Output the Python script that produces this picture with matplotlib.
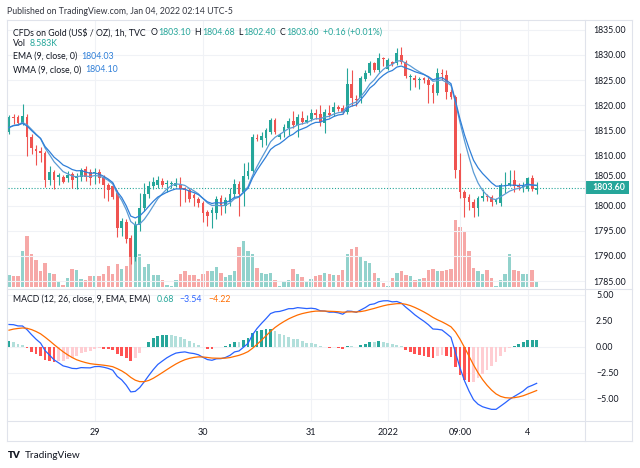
import numpy as np
import matplotlib.pyplot as plt
from matplotlib.patches import Rectangle
from matplotlib.lines import Line2D
from matplotlib.transforms import blended_transform_factory

plt.rcParams['font.family'] = ['Lato', 'DejaVu Sans']

# hourly candles, Dec 28 2021 -> Jan 04 2022
opens = [1814.6, 1817.7, 1817.7, 1816.3, 1817.7, 1813.7, 1811.3, 1810.8, 1810.4, 1805.2,
         1806.7, 1805.6, 1805.6, 1805.4, 1806.3, 1805.4, 1805.6, 1807.3, 1806.6, 1806.5,
         1806.7, 1805.6, 1804.1, 1804.0, 1802.6, 1795.6, 1796.8, 1793.5, 1789.8, 1796.1,
         1799.6, 1802.4, 1804.0, 1804.2, 1805.0, 1804.4, 1804.4, 1804.0, 1804.2, 1803.5,
         1803.1, 1802.2, 1801.3, 1800.6, 1798.7, 1798.5, 1798.5, 1801.5, 1800.0, 1800.8,
         1802.3, 1804.4, 1802.8, 1805.8, 1806.8, 1813.5, 1813.1, 1813.4, 1814.7, 1817.0,
         1813.6, 1814.7, 1815.4, 1816.8, 1816.0, 1817.4, 1816.7, 1817.2, 1818.5, 1818.2,
         1816.4, 1818.4, 1818.7, 1819.7, 1819.4, 1818.7, 1824.3, 1821.3, 1821.4, 1825.2,
         1826.4, 1828.3, 1826.9, 1829.3, 1827.2, 1828.5, 1828.3, 1830.0, 1828.5, 1825.6,
         1825.4, 1825.0, 1825.3, 1825.0, 1824.0, 1822.5, 1826.4, 1826.0, 1822.7, 1821.7,
         1807.1, 1802.8, 1801.8, 1800.8, 1799.5, 1801.5, 1801.9, 1801.7, 1800.8, 1800.5,
         1804.0, 1804.2, 1805.1, 1804.1, 1803.8, 1803.4, 1805.4, 1803.1]
highs = [1818.0, 1818.2, 1818.0, 1820.2, 1818.3, 1814.2, 1812.0, 1811.7, 1810.8, 1807.9,
         1807.1, 1806.4, 1806.0, 1806.8, 1806.7, 1806.5, 1807.5, 1807.8, 1807.2, 1807.4,
         1807.2, 1806.0, 1804.6, 1804.5, 1803.2, 1797.5, 1797.3, 1794.1, 1797.0, 1802.6,
         1804.5, 1805.0, 1805.6, 1805.8, 1805.4, 1805.2, 1805.0, 1805.4, 1805.6, 1803.8,
         1803.5, 1802.6, 1801.8, 1801.0, 1799.2, 1799.8, 1802.0, 1802.1, 1801.8, 1803.5,
         1805.3, 1805.0, 1808.4, 1808.6, 1814.3, 1814.2, 1814.6, 1815.5, 1817.5, 1817.4,
         1814.5, 1816.2, 1817.5, 1818.9, 1818.2, 1818.9, 1818.0, 1819.2, 1819.3, 1820.0,
         1819.3, 1820.0, 1820.6, 1820.0, 1820.0, 1827.3, 1827.0, 1822.0, 1825.8, 1826.9,
         1828.8, 1828.6, 1830.4, 1829.6, 1829.3, 1828.7, 1831.3, 1831.6, 1829.0, 1826.2,
         1825.9, 1825.6, 1825.6, 1825.5, 1824.4, 1827.3, 1827.2, 1827.0, 1823.3, 1822.0,
         1810.4, 1803.2, 1802.3, 1801.3, 1802.0, 1803.4, 1802.3, 1802.2, 1801.6, 1804.5,
         1806.7, 1807.1, 1807.1, 1804.6, 1804.8, 1805.7, 1806.1, 1804.68]
lows = [1814.2, 1816.2, 1816.0, 1816.1, 1809.8, 1810.2, 1808.1, 1808.7, 1803.8, 1804.1,
        1803.4, 1804.1, 1804.5, 1804.7, 1803.5, 1803.3, 1805.0, 1805.0, 1804.2, 1804.4,
        1804.6, 1801.5, 1801.0, 1801.3, 1793.8, 1794.0, 1792.5, 1788.3, 1789.0, 1795.0,
        1799.0, 1801.5, 1803.4, 1803.5, 1803.7, 1802.8, 1803.6, 1803.7, 1800.0, 1800.8,
        1800.8, 1800.0, 1799.8, 1796.8, 1796.0, 1795.5, 1797.3, 1798.1, 1798.5, 1800.0,
        1801.5, 1798.0, 1800.0, 1805.3, 1806.3, 1812.8, 1811.7, 1812.0, 1814.3, 1814.3,
        1813.2, 1813.6, 1814.0, 1815.5, 1813.7, 1816.2, 1816.4, 1816.8, 1817.2, 1815.8,
        1814.4, 1817.7, 1817.9, 1818.8, 1818.2, 1818.2, 1819.8, 1819.9, 1820.5, 1824.8,
        1826.0, 1826.5, 1826.5, 1827.8, 1826.9, 1827.8, 1827.9, 1828.2, 1825.3, 1823.1,
        1823.7, 1823.3, 1824.4, 1820.4, 1820.4, 1822.0, 1825.0, 1821.2, 1821.2, 1805.5,
        1801.6, 1797.8, 1799.1, 1797.8, 1797.9, 1801.0, 1800.9, 1800.0, 1800.3, 1800.0,
        1802.5, 1803.9, 1802.8, 1803.1, 1802.8, 1803.0, 1802.9, 1802.40]
closes = [1817.7, 1817.4, 1816.4, 1817.8, 1813.7, 1811.4, 1810.8, 1810.5, 1805.2, 1806.7,
          1805.2, 1806.0, 1804.8, 1806.1, 1805.2, 1805.9, 1807.1, 1805.6, 1805.4, 1806.7,
          1805.4, 1804.1, 1803.1, 1801.8, 1795.6, 1796.9, 1793.4, 1789.7, 1796.1, 1799.6,
          1802.4, 1804.0, 1804.8, 1805.1, 1804.1, 1804.6, 1804.5, 1804.5, 1803.3, 1803.1,
          1801.3, 1801.5, 1800.5, 1798.5, 1798.0, 1799.1, 1801.4, 1800.0, 1801.1, 1802.4,
          1804.4, 1802.3, 1805.8, 1806.9, 1813.7, 1813.3, 1813.8, 1815.0, 1817.0, 1814.7,
          1814.1, 1815.7, 1816.8, 1816.0, 1817.7, 1816.7, 1817.1, 1818.5, 1818.0, 1816.7,
          1818.7, 1818.1, 1819.7, 1819.3, 1818.7, 1824.3, 1821.5, 1821.0, 1825.3, 1826.4,
          1828.3, 1827.0, 1829.4, 1829.1, 1829.0, 1828.2, 1830.3, 1828.6, 1825.8, 1825.8,
          1825.0, 1825.2, 1825.0, 1824.0, 1822.5, 1826.4, 1826.1, 1822.7, 1821.7, 1807.1,
          1802.8, 1801.5, 1800.8, 1799.5, 1801.5, 1801.9, 1801.8, 1800.8, 1801.1, 1804.1,
          1804.2, 1804.6, 1803.9, 1803.8, 1804.0, 1805.4, 1803.4, 1803.60]
volumes = [16.4, 15.7, 15.7, 50.1, 72.9, 47.2, 37.9, 21.5, 34.3, 20.0,
           17.9, 7.9, 2.9, 12.9, 25.7, 24.3, 11.4, 9.3, 15.0, 15.7,
           15.7, 17.2, 29.3, 18.6, 32.9, 25.7, 30.0, 45.0, 72.9, 47.2,
           28.6, 31.5, 16.4, 16.4, 9.3, 2.9, 1.4, 9.3, 17.2, 21.5,
           16.4, 16.4, 11.4, 18.6, 21.5, 21.5, 27.9, 20.0, 14.3, 16.4,
           21.5, 55.8, 65.1, 50.1, 45.8, 27.2, 20.0, 18.6, 19.7, 9.3,
           0.7, 7.2, 10.0, 25.7, 17.2, 14.3, 7.9, 11.4, 15.0, 16.4,
           19.7, 18.6, 16.4, 16.4, 24.3, 46.5, 54.3, 55.8, 42.9, 35.8,
           34.3, 20.0, 12.9, 5.7, 1.4, 12.9, 20.0, 22.9, 16.4, 15.0,
           9.3, 11.4, 12.2, 24.3, 25.7, 22.9, 21.5, 24.3, 25.7, 94.4,
           85.8, 79.4, 50.1, 26.5, 22.9, 17.2, 23.6, 12.2, 0.7, 9.3,
           17.9, 45.8, 24.3, 22.2, 17.9, 17.2, 24.3, 8.583]

tick_pos = [19, 43, 67, 84, 100, 115]
tick_labels = ['29', '30', '31', '2022', '09:00', '4']
price_ticks = [1785, 1790, 1795, 1800, 1805, 1810, 1815, 1820, 1825, 1830, 1835]
macd_ticks = [5, 2.5, 0, -2.5, -5]

# indicator values just before the first visible bar
ma_seed = 1815.0
ema12_seed, ema26_seed, signal_seed = 1815.3, 1813.2, 1.45

UP, DOWN = '#26a69a', '#ef5350'
TXT = '#131722'
GRID = '#f0f2f6'
BLUE_MA = '#2f7fd8'


def ema(values, n, seed):
    k = 2.0 / (n + 1)
    out, e = [], seed
    for v in values:
        e = e + k * (v - e)
        out.append(e)
    return np.array(out)


def wma(values, n, seed):
    padded = [seed] * (n - 1) + list(values)
    w = np.arange(1, n + 1)
    return np.array([np.dot(w, padded[i:i + n]) / w.sum() for i in range(len(values))])


o, h, l, c = map(np.array, (opens, highs, lows, closes))
vol = np.array(volumes)
x = np.arange(len(c))
up = c >= o

ema9 = ema(c, 9, ma_seed)
wma9 = wma(c, 9, ma_seed)
macd = ema(c, 12, ema12_seed) - ema(c, 26, ema26_seed)
signal = ema(macd, 9, signal_seed)
hist = macd - signal
prev = np.concatenate([[hist[0]], hist[:-1]])
hist_cols = []
for hv, pv in zip(hist, prev):
    if hv >= 0:
        hist_cols.append('#26a69a' if hv >= pv else '#b2dfdb')
    else:
        hist_cols.append('#ffcdd2' if hv > pv else '#ff5252')

W, H = 640, 468
fig = plt.figure(figsize=(6.4, 4.68), dpi=100)
renderer = fig.canvas.get_renderer()


def rect(x0, y0, x1, y1):
    return [x0 / W, 1 - y1 / H, (x1 - x0) / W, (y1 - y0) / H]


def ftext(px, py, s, **kw):
    return fig.text(px / W, 1 - py / H, s, va='center', ha='left', **kw)


def text_row(px, py, parts, size=6.3):
    # lay text pieces side by side, each one after the previous
    for s, col, gap in parts:
        px += gap
        t = ftext(px, py, s, fontsize=size, color=col)
        px = t.get_window_extent(renderer).x1


xlim = (-0.22, 127.72)

# volume (drawn underneath)
ax_vol = fig.add_axes(rect(8, 20, 585, 288), zorder=0)
ax_vol.bar(x, vol, width=0.75, color=np.where(up, UP, DOWN), alpha=0.5, linewidth=0)
ax_vol.set_ylim(-2.1, 381)
ax_vol.set_xlim(*xlim)
ax_vol.axis('off')

# price pane
ax = fig.add_axes(rect(8, 20, 585, 288), zorder=1)
ax.patch.set_visible(False)
for t in price_ticks:
    ax.axhline(t, color=GRID, lw=0.8, zorder=0)
for t in tick_pos:
    ax.axvline(t, color=GRID, lw=0.8, zorder=0)
cols = np.where(up, UP, DOWN)
ax.vlines(x, l, h, colors=cols, lw=0.8, zorder=2)
body = np.maximum(np.abs(c - o), 0.12)
ax.bar(x, body, bottom=np.minimum(o, c), width=0.62, color=cols, linewidth=0, zorder=3)
ax.plot(x, wma9, color='#5b9bd5', lw=0.9, zorder=4)
ax.plot(x, ema9, color=BLUE_MA, lw=0.9, zorder=4)
ax.axhline(c[-1], color=UP, lw=0.8, ls=(0, (1, 1.6)), zorder=1)
ax.set_xlim(*xlim)
ax.set_ylim(1783.61, 1836.94)
ax.yaxis.tick_right()
ax.set_yticks(price_ticks)
ax.set_yticklabels([f'{t:.2f}' if t != 1805 else '' for t in price_ticks])
ax.tick_params(axis='y', length=0, pad=6, labelsize=6.3, labelcolor=TXT)
ax.set_xticks([])
for s in ax.spines.values():
    s.set_visible(False)
bt = blended_transform_factory(ax.transAxes, ax.transData)
# 1805.00 label sits half hidden behind the last-price box
ax.text(1.0 + 8 / 577, 1805, '1805.00', transform=bt, ha='left', va='bottom',
        fontsize=6.3, color=TXT, zorder=4, clip_on=False)
ax.add_patch(Rectangle((1.0, c[-1] - 1.3), 44 / 577, 2.6, transform=bt, clip_on=False,
                       facecolor=UP, edgecolor='none', zorder=5))
ax.text(1.0 + 7 / 577, c[-1], f'{c[-1]:.2f}', transform=bt, ha='left', va='center',
        color='white', fontsize=6.3, fontweight='bold', zorder=6)

# MACD pane
axm = fig.add_axes(rect(8, 290, 585, 421))
for t in macd_ticks:
    axm.axhline(t, color=GRID, lw=0.8, zorder=0)
for t in tick_pos:
    axm.axvline(t, color=GRID, lw=0.8, zorder=0)
axm.bar(x, hist, width=0.62, color=hist_cols, linewidth=0, zorder=2)
axm.plot(x, macd, color='#2962ff', lw=0.9, zorder=3)
axm.plot(x, signal, color='#ff6d00', lw=0.9, zorder=3)
axm.set_xlim(*xlim)
axm.set_ylim(-7.14, 5.45)
axm.yaxis.tick_right()
axm.set_yticks(macd_ticks)
axm.set_yticklabels([f'{t:.2f}'.replace('-', '\u2212') for t in macd_ticks])
axm.set_xticks(tick_pos)
axm.set_xticklabels(tick_labels)
axm.tick_params(axis='y', length=0, pad=8, labelsize=6.3, labelcolor=TXT)
axm.tick_params(axis='x', length=0, pad=5, labelsize=6.5, labelcolor=TXT)
for s in axm.spines.values():
    s.set_visible(False)

# frame
fc = '#e0e3eb'
for (x0, y0, x1, y1) in [(7, 20, 632, 20), (7, 441, 632, 441), (7, 20, 7, 441),
                         (632, 20, 632, 441), (585, 20, 585, 441), (7, 421, 632, 421),
                         (7, 289, 632, 289)]:
    fig.add_artist(Line2D([x0 / W, x1 / W], [1 - y0 / H, 1 - y1 / H], color=fc, lw=0.8))

# header and legends
ftext(7, 11, 'Published on TradingView.com, Jan 04, 2022 02:14 UTC-5', fontsize=6.3, color='#333640')
text_row(13, 32.5, [('CFDs on Gold (US$ / OZ), 1h, TVC', TXT, 0),
                    ('O', TXT, 5), ('1803.10', UP, 0.5),
                    ('H', TXT, 4), ('1804.68', UP, 0.5),
                    ('L', TXT, 4), ('1802.40', UP, 0.5),
                    ('C', TXT, 4), ('1803.60', UP, 0.5),
                    ('+0.16 (+0.01%)', UP, 4)])
text_row(13, 44, [('Vol', TXT, 0), ('8.583K', UP, 4)])
text_row(13, 56.5, [('EMA (9, close, 0)', TXT, 0), ('1804.03', BLUE_MA, 4)])
text_row(13, 70, [('WMA (9, close, 0)', TXT, 0), ('1804.10', BLUE_MA, 4)])
text_row(13, 299, [('MACD (12, 26, close, 9, EMA, EMA)', TXT, 0), ('0.68', UP, 6),
                   ('\u22123.54', '#2962ff', 6), ('\u22124.22', '#ff6d00', 6)])

# logo
ftext(8, 455, 'TV', fontsize=7, color=TXT, fontweight='heavy')
ftext(25, 455, 'TradingView', fontsize=7.2, color=TXT)

fig.savefig('out.png', dpi=100, facecolor='white')
